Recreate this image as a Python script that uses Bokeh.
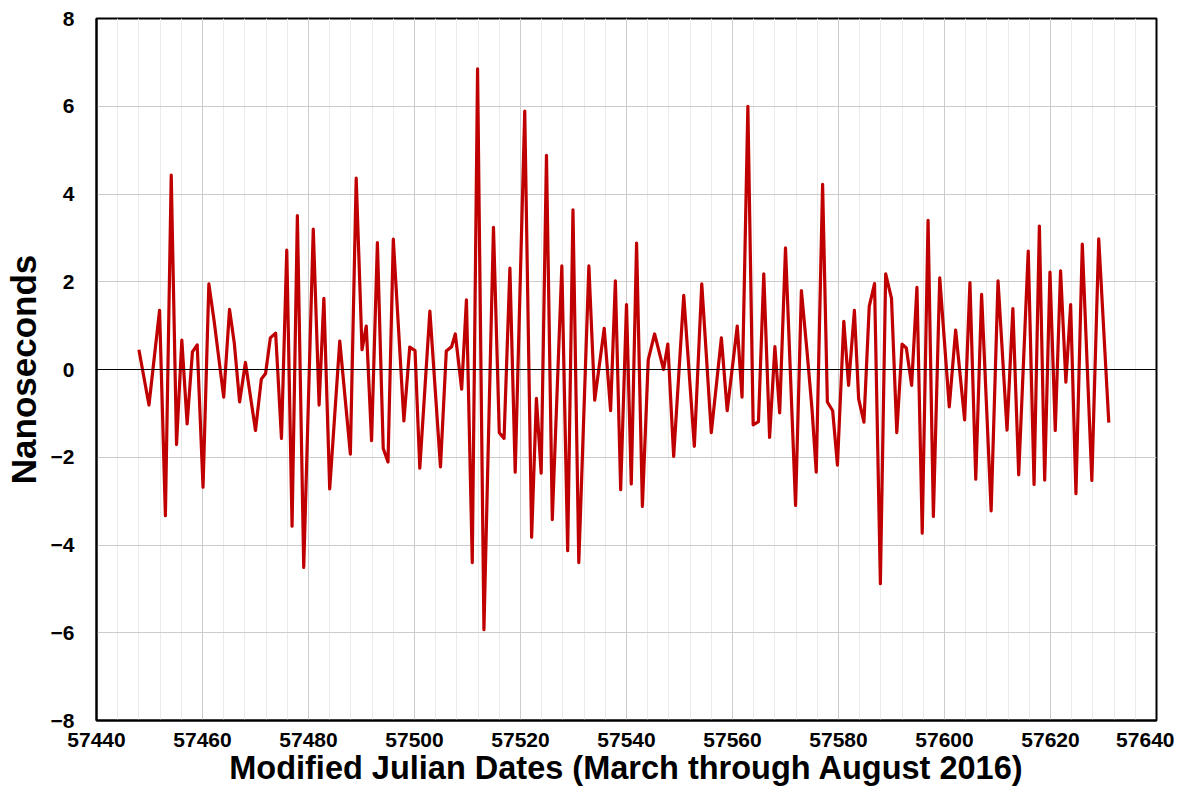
from bokeh.plotting import figure
from bokeh.models import Range1d, SingleIntervalTicker, Span
from bokeh.embed import file_html
from bokeh.resources import INLINE

mjd = [57448.0, 57449.9, 57451.9, 57453.0, 57454.1, 57455.1, 57456.1, 57457.1, 57458.1, 57459.0,
       57460.1, 57461.2, 57462.2, 57464.0, 57465.1, 57466.0, 57467.0, 57468.1, 57470.0, 57471.1,
       57471.9, 57472.8, 57473.8, 57474.9, 57475.9, 57476.9, 57477.9, 57479.1, 57480.9, 57482.0,
       57482.9, 57484.0, 57485.9, 57487.9, 57489.0, 57490.1, 57490.9, 57491.9, 57493.0, 57494.1,
       57495.0, 57496.0, 57498.0, 57499.1, 57500.1, 57501.0, 57502.9, 57504.9, 57506.0, 57507.0,
       57507.7, 57508.9, 57509.8, 57510.9, 57511.9, 57513.1, 57514.9, 57516.0, 57516.9, 57518.0,
       57519.0, 57520.8, 57522.1, 57523.0, 57523.9, 57524.9, 57526.0, 57527.8, 57528.9, 57529.9,
       57531.0, 57532.9, 57534.0, 57535.8, 57537.0, 57537.9, 57538.9, 57540.0, 57540.9, 57541.9,
       57543.0, 57544.1, 57545.3, 57547.0, 57547.8, 57548.9, 57550.8, 57552.8, 57554.2, 57556.0,
       57557.9, 57559.0, 57560.9, 57561.8, 57562.9, 57563.9, 57564.9, 57565.9, 57567.0, 57568.0,
       57568.9, 57570.0, 57571.9, 57573.0, 57574.1, 57575.0, 57575.8, 57577.0, 57577.9, 57578.9,
       57579.8, 57581.0, 57581.9, 57583.0, 57583.8, 57584.8, 57585.8, 57586.8, 57587.9, 57588.9,
       57590.0, 57591.0, 57592.0, 57592.8, 57593.8, 57594.8, 57595.8, 57596.9, 57597.9, 57599.1,
       57600.9, 57602.1, 57603.8, 57604.8, 57605.9, 57607.0, 57608.8, 57610.1, 57611.8, 57612.9,
       57614.0, 57615.8, 57616.9, 57617.9, 57618.9, 57619.9, 57620.9, 57621.9, 57622.9, 57623.8,
       57624.8, 57626.0, 57627.8, 57629.1, 57631.0]

nanoseconds = [0.45, -0.81, 1.35, -3.33, 4.43, -1.71, 0.67, -1.24, 0.40, 0.56,
               -2.68, 1.95, 1.10, -0.63, 1.37, 0.60, -0.74, 0.16, -1.39, -0.22,
               -0.09, 0.72, 0.83, -1.57, 2.72, -3.57, 3.51, -4.51, 3.20, -0.81,
               1.62, -2.72, 0.65, -1.93, 4.36, 0.45, 0.99, -1.62, 2.89, -1.80,
               -2.11, 2.97, -1.17, 0.51, 0.43, -2.25, 1.33, -2.22, 0.42, 0.52,
               0.81, -0.45, 1.59, -4.40, 6.85, -5.93, 3.24, -1.44, -1.57, 2.31,
               -2.34, 5.89, -3.82, -0.66, -2.36, 4.88, -3.42, 2.36, -4.13, 3.64,
               -4.40, 2.36, -0.70, 0.94, -0.94, 2.02, -2.74, 1.48, -2.61, 2.88,
               -3.12, 0.22, 0.81, 0.00, 0.58, -1.98, 1.69, -1.75, 1.95, -1.44,
               0.72, -0.94, 0.99, -0.63, 6.00, -1.26, -1.19, 2.18, -1.55, 0.52,
               -0.99, 2.77, -3.10, 1.80, 0.36, -0.90, -2.34, 4.22, -0.74, -0.94,
               -2.18, 1.10, -0.36, 1.35, -0.67, -1.20, 1.44, 1.96, -4.88, 2.18,
               1.62, -1.44, 0.58, 0.49, -0.36, 1.87, -3.73, 3.40, -3.35, 2.09,
               -0.85, 0.90, -1.15, 1.98, -2.50, 1.71, -3.22, 2.02, -1.38, 1.39,
               -2.40, 2.70, -2.62, 3.27, -2.52, 2.22, -1.39, 2.25, -0.29, 1.48,
               -2.83, 2.86, -2.53, 2.98, -1.21]

x_title = "Modified Julian Dates (March through August 2016)"
y_title = "Nanoseconds"

FONT = "Liberation Sans"

p = figure(width=1174, height=788, output_backend="svg", toolbar_location=None,
           x_range=Range1d(57440, 57640), y_range=Range1d(-8, 8),
           min_border_left=88, min_border_right=18, min_border_top=18, min_border_bottom=66)

p.background_fill_color = "white"
p.border_fill_color = "white"
p.outline_line_color = "black"
p.outline_line_width = 2

p.xaxis.ticker = SingleIntervalTicker(interval=20, num_minor_ticks=5)
p.yaxis.ticker = SingleIntervalTicker(interval=2, num_minor_ticks=0)

for ax in (p.xaxis, p.yaxis):
    ax.axis_line_color = "black"
    ax.axis_line_width = 2
    ax.major_tick_out = 0
    ax.major_tick_in = 0
    ax.minor_tick_out = 0
    ax.minor_tick_in = 0
    ax.major_label_text_font = FONT
    ax.major_label_text_font_style = "bold"
    ax.major_label_text_font_size = "21px"
    ax.major_label_text_color = "black"
    ax.axis_label_text_font = FONT
    ax.axis_label_text_font_style = "bold"
    ax.axis_label_text_color = "black"

p.xaxis.axis_label = x_title
p.yaxis.axis_label = y_title
p.xaxis.axis_label_text_font_size = "32.5px"
p.yaxis.axis_label_text_font_size = "35px"
p.xaxis.major_label_standoff = 12
p.xaxis.axis_label_standoff = 0
p.yaxis.major_label_standoff = 22
p.yaxis.axis_label_standoff = 5

p.xgrid.grid_line_color = "#cccccc"
p.xgrid.grid_line_width = 1
p.xgrid.minor_grid_line_color = "#ebebeb"
p.xgrid.minor_grid_line_width = 1
p.ygrid.grid_line_color = "#cccccc"
p.ygrid.grid_line_width = 1

p.add_layout(Span(location=0, dimension="width", line_color="black", line_width=1))

p.line(mjd, nanoseconds, line_color="#C00000", line_width=3.2, line_join="round")

open("out.html", "w").write(file_html(p, INLINE))
